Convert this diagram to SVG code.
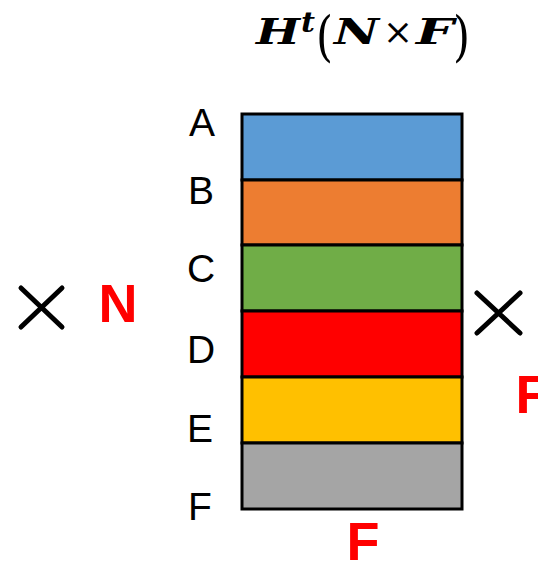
<svg xmlns="http://www.w3.org/2000/svg" width="538" height="561" viewBox="0 0 538 561">
<style>
.lbl{font-family:"Liberation Sans","Open Sans",sans-serif;font-size:39px;fill:#000;text-anchor:middle}
.red{font-family:"Liberation Sans","Open Sans",sans-serif;font-weight:bold;font-size:54px;fill:#FF0000;text-anchor:middle}
.math{font-family:"DejaVu Serif","Liberation Serif",serif;font-size:36px;fill:#000}
.bi{font-weight:bold;font-style:italic}
.cell{stroke:#000;stroke-width:3}
.x{stroke:#000;stroke-width:5;stroke-linecap:round}
</style>
<rect width="538" height="561" fill="#fff"/>
<g id="title">
<text class="math bi" x="256" y="44" textLength="44" lengthAdjust="spacingAndGlyphs">H</text>
<text class="math bi" x="301" y="32" style="font-size:27px" textLength="14" lengthAdjust="spacingAndGlyphs">t</text>
<text class="math" x="316" y="55" style="font-size:54px" textLength="17" lengthAdjust="spacingAndGlyphs">(</text>
<text class="math bi" x="334" y="44" textLength="45" lengthAdjust="spacingAndGlyphs">N</text>
<text class="math" x="383" y="44" style="font-size:36px" textLength="30" lengthAdjust="spacingAndGlyphs">×</text>
<text class="math bi" x="416" y="44" textLength="38" lengthAdjust="spacingAndGlyphs">F</text>
<text class="math" x="453" y="55" style="font-size:54px" textLength="17" lengthAdjust="spacingAndGlyphs">)</text>
</g>
<g id="matrix">
<rect class="cell" x="242" y="114" width="220" height="66" fill="#5B9BD5"/>
<rect class="cell" x="242" y="180" width="220" height="65" fill="#ED7D31"/>
<rect class="cell" x="242" y="245" width="220" height="66" fill="#70AD47"/>
<rect class="cell" x="242" y="311" width="220" height="66" fill="#FF0000"/>
<rect class="cell" x="242" y="377" width="220" height="66" fill="#FFC000"/>
<rect class="cell" x="242" y="443" width="220" height="66" fill="#A5A5A5"/>
</g>
<g id="labels">
<text class="lbl" x="202" y="136">A</text>
<text class="lbl" x="201" y="204">B</text>
<text class="lbl" x="201" y="282">C</text>
<text class="lbl" x="201" y="363">D</text>
<text class="lbl" x="200" y="442">E</text>
<text class="lbl" x="200" y="520">F</text>
</g>
<g id="times-n">
<path class="x" d="M21,288 L62,327 M62,288 L21,327"/>
<text class="red" x="118" y="322">N</text>
</g>
<g id="times-f">
<path class="x" d="M477,293 L520,333 M520,293 L477,333"/>
<text class="red" x="532" y="413">F</text>
</g>
<g id="bottom-f">
<text class="red" x="363" y="560">F</text>
</g>
</svg>
